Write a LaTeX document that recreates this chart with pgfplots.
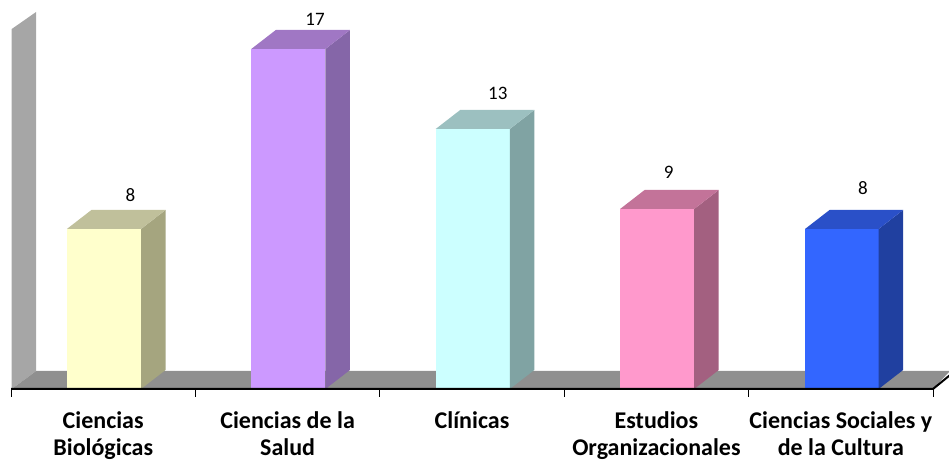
\documentclass[border=0pt]{standalone}
\usepackage{fontspec}
\setmainfont{Carlito}
\usepackage{pgfplots}
\pgfplotsset{compat=1.18}
\definecolor{wall}{HTML}{A6A6A6}
\definecolor{floorc}{HTML}{8F8F8F}
\begin{document}
\begin{tikzpicture}
\begin{axis}[
  scale only axis, width=949pt, height=459pt,
  xmin=-0.5597, xmax=4.5868, ymin=-3.5, ymax=19.45,
  axis x line=middle, axis y line=none,
  axis line style={draw=none},
  xtick={0,1,2,3,4},
  xticklabels={Ciencias\\Biológicas, Ciencias de la\\Salud, Clínicas\\\phantom{X}, Estudios\\Organizacionales, Ciencias Sociales y\\de la Cultura},
  minor xtick={-0.5,0.5,1.5,2.5,3.5,4.5},
  major tick length=0pt, minor tick length=8pt,
  tick align=outside,
  minor tick style={black, line width=0.8pt},
  xticklabel style={align=center, anchor=north, yshift=-19pt,
    font=\fontsize{24}{27}\selectfont\bfseries},
  every node near coord/.style={anchor=center, font=\fontsize{19}{22}\selectfont},
]
\path (rel axis cs:0,0) rectangle (rel axis cs:1,1);
% back wall and floor
\addplot[fill=wall, draw=none] coordinates {(-0.496,0) (-0.496,18) (-0.364,18.85) (-0.364,0.9)} -- cycle;
\addplot[fill=floorc, draw=none] coordinates {(-0.496,0) (4.5,0) (4.592,0.9) (-0.364,0.9)} -- cycle;

% Ciencias Biologicas, 8
\addplot[fill={rgb,255:red,255;green,255;blue,204}, draw=none] coordinates {(-0.197,0) (0.205,0) (0.205,8) (-0.197,8)} -- cycle;
\addplot[fill={rgb,255:red,165;green,165;blue,127}, draw=none] coordinates {(0.205,0) (0.338,0.95) (0.338,8.95) (0.205,8)} -- cycle;
\addplot[fill={rgb,255:red,192;green,192;blue,155}, draw=none] coordinates {(-0.197,8) (0.205,8) (0.338,8.95) (-0.064,8.95)} -- cycle;

% Ciencias de la Salud, 17
\addplot[fill={rgb,255:red,204;green,153;blue,255}, draw=none] coordinates {(0.803,0) (1.205,0) (1.205,17) (0.803,17)} -- cycle;
\addplot[fill={rgb,255:red,133;green,102;blue,168}, draw=none] coordinates {(1.205,0) (1.338,0.95) (1.338,17.95) (1.205,17)} -- cycle;
\addplot[fill={rgb,255:red,160;green,119;blue,196}, draw=none] coordinates {(0.803,17) (1.205,17) (1.338,17.95) (0.936,17.95)} -- cycle;

% Clinicas, 13
\addplot[fill={rgb,255:red,204;green,255;blue,255}, draw=none] coordinates {(1.803,0) (2.205,0) (2.205,13) (1.803,13)} -- cycle;
\addplot[fill={rgb,255:red,128;green,163;blue,163}, draw=none] coordinates {(2.205,0) (2.338,0.95) (2.338,13.95) (2.205,13)} -- cycle;
\addplot[fill={rgb,255:red,156;green,192;blue,192}, draw=none] coordinates {(1.803,13) (2.205,13) (2.338,13.95) (1.936,13.95)} -- cycle;

% Estudios Organizacionales, 9
\addplot[fill={rgb,255:red,255;green,153;blue,204}, draw=none] coordinates {(2.803,0) (3.205,0) (3.205,9) (2.803,9)} -- cycle;
\addplot[fill={rgb,255:red,163;green,96;blue,128}, draw=none] coordinates {(3.205,0) (3.338,0.95) (3.338,9.95) (3.205,9)} -- cycle;
\addplot[fill={rgb,255:red,195;green,115;blue,153}, draw=none] coordinates {(2.803,9) (3.205,9) (3.338,9.95) (2.936,9.95)} -- cycle;

% Ciencias Sociales y de la Cultura, 8
\addplot[fill={rgb,255:red,51;green,102;blue,255}, draw=none] coordinates {(3.806,0) (4.205,0) (4.205,8) (3.806,8)} -- cycle;
\addplot[fill={rgb,255:red,32;green,64;blue,160}, draw=none] coordinates {(4.205,0) (4.338,0.95) (4.338,8.95) (4.205,8)} -- cycle;
\addplot[fill={rgb,255:red,42;green,80;blue,200}, draw=none] coordinates {(3.806,8) (4.205,8) (4.338,8.95) (3.939,8.95)} -- cycle;

% base line with its slanted end
\addplot[black, line width=2pt] coordinates {(-0.5,0) (4.5,0) (4.59,0.68)};

% value labels
\addplot[draw=none, nodes near coords, point meta=explicit symbolic] coordinates {
  (0.148,9.7)[8]
  (1.149,18.5)[17]
  (2.14,14.8)[13]
  (3.066,10.85)[9]
  (4.12,10.05)[8]
};
\end{axis}
\end{tikzpicture}
\end{document}
